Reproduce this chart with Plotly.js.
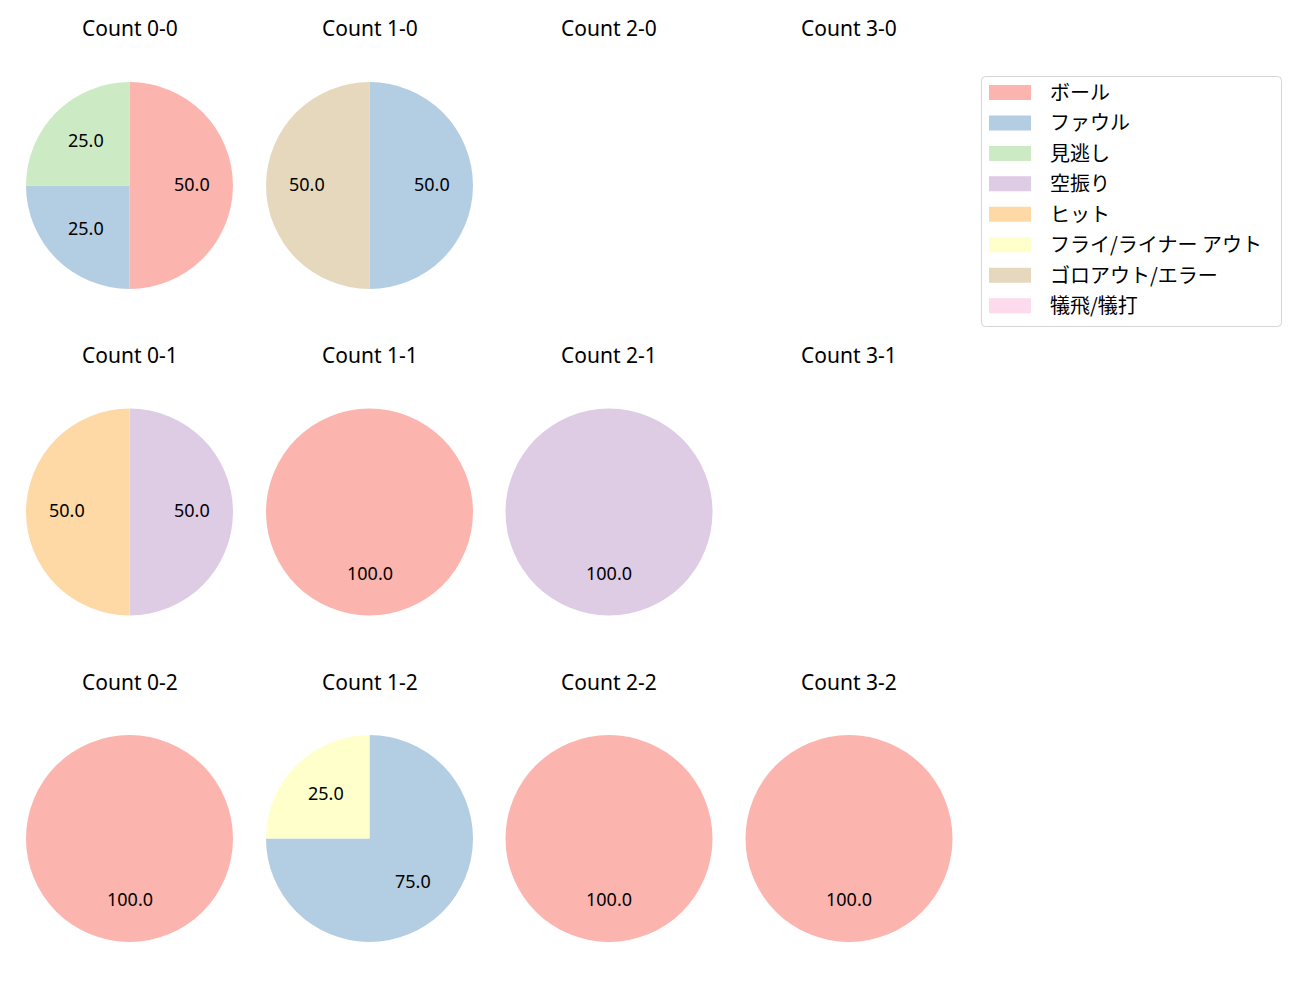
<!DOCTYPE html>
<html>
<head>
<meta charset="utf-8">
<script src="https://cdn.plot.ly/plotly-3.0.1.min.js"></script>
<style>html,body{margin:0;padding:0;background:#fff;}#chart{width:1300px;height:1000px;}</style>
</head>
<body>
<div id="chart"></div>
<script>
// ---- data ----
const categories = ['ボール','ファウル','見逃し','空振り','ヒット','フライ/ライナー アウト','ゴロアウト/エラー','犠飛/犠打'];
const colors = ['#fbb4ae','#b3cde3','#ccebc5','#decbe4','#fed9a6','#ffffcc','#e5d8bd','#fddaec'];
const countTitles = [
  ['Count 0-0','Count 1-0','Count 2-0','Count 3-0'],
  ['Count 0-1','Count 1-1','Count 2-1','Count 3-1'],
  ['Count 0-2','Count 1-2','Count 2-2','Count 3-2']
];
// values per count, in category order
const count00 = [2,1,1,0,0,0,0,0];
const count10 = [0,1,0,0,0,0,1,0];
const count20 = [0,0,0,0,0,0,0,0];
const count30 = [0,0,0,0,0,0,0,0];
const count01 = [0,0,0,1,1,0,0,0];
const count11 = [1,0,0,0,0,0,0,0];
const count21 = [0,0,0,1,0,0,0,0];
const count31 = [0,0,0,0,0,0,0,0];
const count02 = [1,0,0,0,0,0,0,0];
const count12 = [0,3,0,0,0,1,0,0];
const count22 = [1,0,0,0,0,0,0,0];
const count32 = [1,0,0,0,0,0,0,0];
const countValues = [
  [count00,count10,count20,count30],
  [count01,count11,count21,count31],
  [count02,count12,count22,count32]
];

// ---- layout geometry ----
const W = 1300, H = 1000;
const colCenters = [129.5, 369.5, 609, 849];
const rowCenters = [185.5, 512, 838.5];
const R = 103.5;
const LATIN = '"Noto Sans", "Noto Sans CJK JP", sans-serif';
const CJK = '"Noto Sans CJK JP", "Noto Sans", sans-serif';
const px = x => x / W;
const py = y => 1 - y / H;

const traces = [];
const annotations = [];
const shapes = [];

countValues.forEach((row, ri) => {
  row.forEach((vals, ci) => {
    const cx = colCenters[ci], cy = rowCenters[ri];
    annotations.push({
      xref:'paper', yref:'paper', x:px(cx), y:py(cy - 157),
      xanchor:'center', yanchor:'middle', showarrow:false,
      text: countTitles[ri][ci], font:{family:LATIN, size:21, color:'#000'}
    });
    const total = vals.reduce((a,b)=>a+b,0);
    if (total === 0) return;
    const labs = [], vs = [], cols = [];
    vals.forEach((v,k)=>{ if (v>0){ labs.push(categories[k]); vs.push(v); cols.push(colors[k]); } });
    traces.push({
      type:'pie', labels:labs, values:vs, sort:false, direction:'clockwise', rotation:0,
      marker:{colors:cols, line:{width:0}}, textinfo:'none', hoverinfo:'label+percent',
      showlegend:false,
      domain:{x:[px(cx-R), px(cx+R)], y:[py(cy+R), py(cy-R)]}
    });
    // percentage labels at 0.6 radius, mid-angle (clockwise from 12 o'clock)
    let cum = 0;
    vs.forEach(v => {
      const mid = 2*Math.PI*(cum + v/2)/total;
      cum += v;
      const tx = cx + 0.6*R*Math.sin(mid);
      const ty = cy - 0.6*R*Math.cos(mid) - 1.5;
      annotations.push({
        xref:'paper', yref:'paper', x:px(tx), y:py(ty),
        xanchor:'center', yanchor:'middle', showarrow:false,
        text:(100*v/total).toFixed(1), font:{family:LATIN, size:18, color:'#000'}
      });
    });
  });
});

// ---- legend (built from categories/colors) ----
const L = {x0:981.5, x1:1281.5, y0:76.5, y1:326.5, r:4};
shapes.push({
  type:'path', xref:'paper', yref:'paper',
  path:`M ${px(L.x0+L.r)} ${py(L.y0)} L ${px(L.x1-L.r)} ${py(L.y0)} Q ${px(L.x1)} ${py(L.y0)} ${px(L.x1)} ${py(L.y0+L.r)} L ${px(L.x1)} ${py(L.y1-L.r)} Q ${px(L.x1)} ${py(L.y1)} ${px(L.x1-L.r)} ${py(L.y1)} L ${px(L.x0+L.r)} ${py(L.y1)} Q ${px(L.x0)} ${py(L.y1)} ${px(L.x0)} ${py(L.y1-L.r)} L ${px(L.x0)} ${py(L.y0+L.r)} Q ${px(L.x0)} ${py(L.y0)} ${px(L.x0+L.r)} ${py(L.y0)} Z`,
  line:{color:'#d5d5d5', width:1}, fillcolor:'rgba(255,255,255,0.8)'
});
categories.forEach((c,k)=>{
  const yc = 92.5 + k*30.45;
  shapes.push({type:'rect', xref:'paper', yref:'paper',
    x0:px(989), x1:px(1031), y0:py(yc+7.5), y1:py(yc-7.5),
    line:{width:0}, fillcolor:colors[k]});
  annotations.push({xref:'paper', yref:'paper', x:px(1048), y:py(yc - 1),
    xanchor:'left', yanchor:'middle', showarrow:false, text:c,
    font:{family:CJK, size:20, color:'#000'}});
});

const layout = {
  width:W, height:H, margin:{l:0,r:0,t:0,b:0},
  paper_bgcolor:'#fff', plot_bgcolor:'#fff',
  showlegend:false, annotations, shapes
};
Plotly.newPlot('chart', traces, layout, {displayModeBar:false, staticPlot:true});
</script>
</body>
</html>
